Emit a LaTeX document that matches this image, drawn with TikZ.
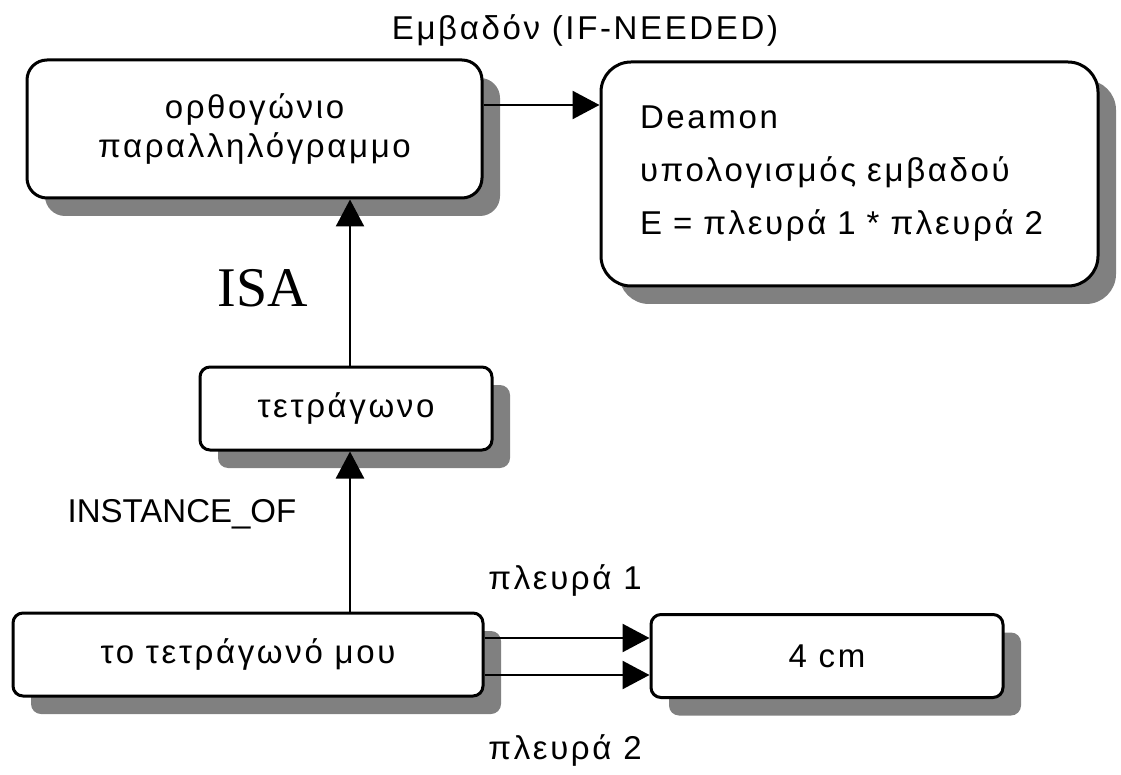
\documentclass[tikz,border=0pt]{standalone}
\usepackage{fontspec}
\setmainfont[LetterSpace=8]{Liberation Sans}
\newfontfamily\plainsans{Liberation Sans}
\newfontfamily\timesfont{Liberation Serif}
\usetikzlibrary{shadows,arrows.meta}
\definecolor{shadowgray}{RGB}{128,128,128}
\begin{document}
\begin{tikzpicture}[x=1pt,y=-1pt,
  box/.style={draw=black, line width=3pt, fill=white, rounded corners=10pt, inner sep=0pt,
    align=center, font=\fontsize{33}{39}\selectfont,
    drop shadow={shadow xshift=18pt, shadow yshift=-18pt, fill=shadowgray, opacity=1}},
  arr/.style={line width=2.5pt, -{Triangle[length=27pt,width=28pt]}},
  lbl/.style={font=\fontsize{33}{39}\selectfont, inner sep=0pt}]
\useasboundingbox (0,0) rectangle (1121,775);
\node[box, rounded corners=20pt, minimum width=455pt, minimum height=138pt] (b1) at (254.5,129) {ορθογώνιο\\παραλληλόγραμμο};
\node[box, rounded corners=30pt, minimum width=497pt, minimum height=224pt, align=left,
  text width=419pt, inner xsep=39pt, font=\fontsize{33}{53}\selectfont] (b2) at (849.5,174)
  {Deamon\\υπολογισμός εμβαδού\\E = πλευρά 1 * πλευρά 2\\[6pt]};
\node[box, minimum width=292pt, minimum height=83pt] (b3) at (346,408.5) {τετράγωνο};
\node[box, minimum width=470pt, minimum height=83pt] (b4) at (248,654.5) {το τετράγωνό μου};
\node[box, minimum width=352pt, minimum height=83pt] (b5) at (827,656) {4 cm};
\coordinate (ay) at (0,105);
\coordinate (ax) at (350,0);
\coordinate (q1) at (0,638);
\coordinate (q2) at (0,675);
\draw[arr] (b1.east |- ay) -- (b2.west |- ay);
\draw[arr] (ax |- b3.north) -- (ax |- b1.south);
\draw[arr] (ax |- b4.north) -- (ax |- b3.south);
\draw[arr] (b4.east |- q1) -- (b5.west |- q1);
\draw[arr] (b4.east |- q2) -- (b5.west |- q2);
\node[lbl] (title) at (585,30) {Εμβαδόν (IF-NEEDED)};
\node[inner sep=0pt, font=\timesfont\fontsize{56}{60}\selectfont] (isa) at (263,288) {ISA};
\node[lbl, font=\plainsans\fontsize{33}{39}\selectfont] (inst) at (182,514) {INSTANCE\_OF};
\node[lbl] (p1) at (565,580) {πλευρά 1};
\node[lbl] (p2) at (565,750) {πλευρά 2};
\end{tikzpicture}
\end{document}
